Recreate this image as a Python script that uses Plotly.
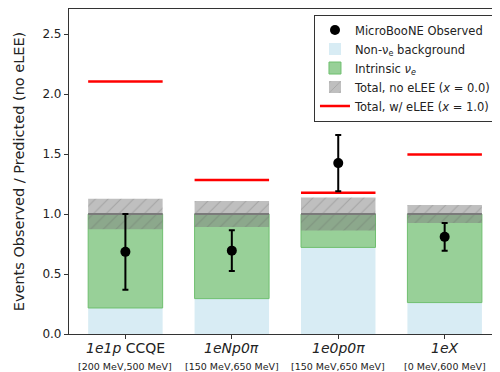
import plotly.graph_objects as go

categories = ["<i>1e1p</i> CCQE", "<i>1eNp0π</i>", "<i>1e0p0π</i>", "<i>1eX</i>"]
energy_ranges = ["[200 MeV,500 MeV]", "[150 MeV,650 MeV]", "[150 MeV,650 MeV]", "[0 MeV,600 MeV]"]
background = [0.217, 0.295, 0.722, 0.262]
intrinsic_top = [1.0, 1.0, 1.0, 1.0]
total_unc = [0.127, 0.108, 0.138, 0.075]
observed = [0.685, 0.695, 1.425, 0.81]
observed_err = [0.315, 0.17, 0.235, 0.115]
elee = [2.105, 1.285, 1.178, 1.497]

x = list(range(len(categories)))
bw = 0.7
font = "DejaVu Sans"

fig = go.Figure()

# Non-nu_e background
fig.add_trace(go.Bar(
    x=x, y=background, width=bw, name="Non-ν<sub>e</sub> background", legendrank=2,
    marker=dict(color="#d8ecf4", line=dict(width=0)),
))
# Intrinsic nu_e
fig.add_trace(go.Bar(
    x=x, y=[t - b for t, b in zip(intrinsic_top, background)], base=background,
    width=bw, name="Intrinsic <i>ν<sub>e</sub></i>", legendrank=3,
    marker=dict(color="#98d098", line=dict(width=1, color="#6fbf6f")),
))
# Total band
fig.add_trace(go.Bar(
    x=x, y=[2 * u for u in total_unc], base=[t - u for t, u in zip(intrinsic_top, total_unc)],
    width=bw, name="Total, no eLEE (<i>x</i> = 0.0)", legendrank=4,
    marker=dict(color="rgba(128,128,128,0.5)", line=dict(width=0),
                pattern=dict(shape="/", fgcolor="rgba(90,90,90,0.55)", size=9, solidity=0.12,
                             fillmode="overlay")),
))
# Total center line
lx, ly = [], []
for i, t in zip(x, intrinsic_top):
    lx += [i - bw / 2, i + bw / 2, None]
    ly += [t, t, None]
fig.add_trace(go.Scatter(x=lx, y=ly, mode="lines", line=dict(color="#7a7a7a", width=2),
                         showlegend=False, hoverinfo="skip"))
# eLEE lines
rx, ry = [], []
for i, v in zip(x, elee):
    rx += [i - bw / 2, i + bw / 2, None]
    ry += [v, v, None]
fig.add_trace(go.Scatter(x=rx, y=ry, mode="lines", line=dict(color="#ff0000", width=2.5),
                         name="Total, w/ eLEE (<i>x</i> = 1.0)", legendrank=5))
# Observed
fig.add_trace(go.Scatter(
    x=x, y=observed, mode="markers", name="MicroBooNE Observed", legendrank=1,
    marker=dict(color="black", size=10),
    error_y=dict(type="data", array=observed_err, color="black", thickness=2, width=3),
))

# category labels (two lines) as annotations under each tick
for i, c, e in zip(x, categories, energy_ranges):
    fig.add_annotation(x=i, y=0, xref="x", yref="paper", text=c, showarrow=False,
                       xanchor="center", yanchor="middle", yshift=-14,
                       font=dict(size=14, family=font, color="#222"))
    fig.add_annotation(x=i, y=0, xref="x", yref="paper", text=e, showarrow=False,
                       xanchor="center", yanchor="middle", yshift=-32,
                       font=dict(size=9.5, family=font, color="#222"))

# page body has an 8px default margin: figure sized to fill the rest of the window
fig.update_layout(
    width=492, height=364,
    margin=dict(l=61, r=0, t=1, b=38),
    plot_bgcolor="white", paper_bgcolor="white",
    barmode="overlay",
    font=dict(family=font, size=12, color="#222"),
    showlegend=True,
    legend=dict(
        x=0.993, y=0.983, xanchor="right", yanchor="top",
        traceorder="normal",
        bgcolor="rgba(255,255,255,0.9)", bordercolor="#333", borderwidth=1,
        font=dict(size=11.5, family=font),
        itemwidth=30, tracegroupgap=0,
    ),
    xaxis=dict(
        range=[-0.53, 3.52], tickmode="array", tickvals=x, showticklabels=False,
        showline=True, linecolor="#333", linewidth=1.2, mirror=True,
        ticks="outside", ticklen=4, tickcolor="#333", automargin=False,
        showgrid=False, zeroline=False,
    ),
    yaxis=dict(
        range=[0, 2.71], tickvals=[0, 0.5, 1.0, 1.5, 2.0, 2.5],
        ticktext=["0.0", "0.5", "1.0", "1.5", "2.0", "2.5"],
        showline=True, linecolor="#333", linewidth=1.2, automargin=False,
        ticks="outside", ticklen=4, tickcolor="#333",
        tickfont=dict(size=12, family=font), showgrid=False, zeroline=False,
        title=dict(text="Events Observed / Predicted (no eLEE)", font=dict(size=14.5, family=font), standoff=14),
    ),
)

fig.write_html("out.html")
